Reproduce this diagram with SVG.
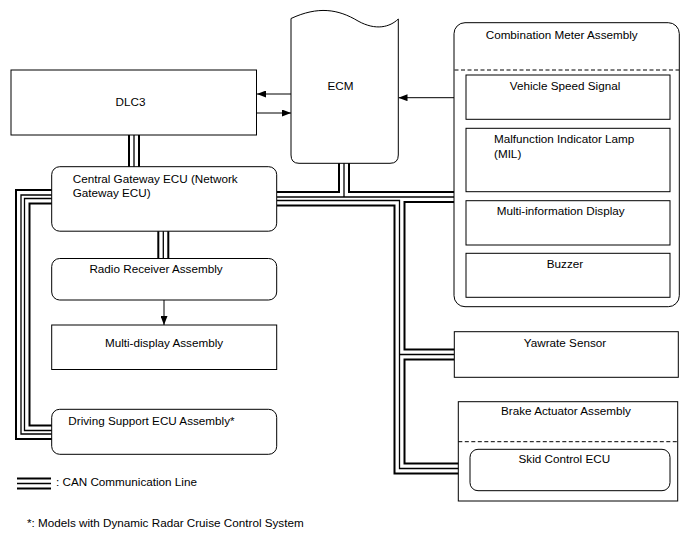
<svg xmlns="http://www.w3.org/2000/svg" width="688" height="560" viewBox="0 0 688 560">
<style>
text{font-family:"Liberation Sans",Arial,sans-serif;font-size:11.7px;fill:#000}
.c{text-anchor:middle}
.box{fill:#fff;stroke:#000;stroke-width:1}
.dash{fill:none;stroke:#000;stroke-width:1;stroke-dasharray:4,2.5}
.ln{fill:none;stroke:#000;stroke-width:1}
.cb{fill:none;stroke:#000;stroke-width:12;stroke-linejoin:miter}
.cw{fill:none;stroke:#fff;stroke-width:8;stroke-linejoin:miter}
.cc{fill:none;stroke:#000;stroke-width:1.3;stroke-linejoin:miter}
</style>
<defs>
<marker id="ah" markerUnits="userSpaceOnUse" markerWidth="9" markerHeight="7" refX="9" refY="3.5" orient="auto">
<path d="M0,0 L9,3.5 L0,7 z" fill="#000"/>
</marker>
<path id="b1" d="M134,134 V167"/>
<path id="b2" d="M163.3,231 V258.5"/>
<path id="b3" d="M52,195 H21 V434 H52"/>
<path id="b4" d="M52,198.5 H24.5 V430.5 H52"/>
<path id="b5" d="M277,197 H454.5"/>
<path id="b6" d="M277,200.5 H399.5 V468.5 H470.5"/>
<path id="b7" d="M399.5,354.5 H454.5"/>
<path id="b8" d="M344,163 V197"/>
<path id="b9" d="M17,483.5 H51"/>
</defs>
<g id="connectors">
<g class="cb"><use href="#b1"/><use href="#b2"/><use href="#b3"/><use href="#b4"/><use href="#b5"/><use href="#b6"/><use href="#b7"/><use href="#b8"/><use href="#b9"/></g>
<g class="cw"><use href="#b1"/><use href="#b2"/><use href="#b3"/><use href="#b4"/><use href="#b5"/><use href="#b6"/><use href="#b7"/><use href="#b8"/><use href="#b9"/></g>
<g class="cc"><use href="#b1"/><use href="#b2"/><use href="#b3"/><use href="#b4"/><use href="#b5"/><use href="#b6"/><use href="#b7"/><use href="#b8"/><use href="#b9"/></g>
<path class="ln" d="M291,94 H257" marker-end="url(#ah)"/>
<path class="ln" d="M256,113 H291" marker-end="url(#ah)"/>
<path class="ln" d="M466,97.7 H398.5" marker-end="url(#ah)"/>
<path class="ln" d="M164,300 V325" marker-end="url(#ah)"/>
</g>
<g id="dlc3">
<rect class="box" x="11" y="70" width="245.5" height="65"/>
<text class="c" x="130.5" y="105.5">DLC3</text>
</g>
<g id="ecm">
<path class="box" d="M291,18.5 C318,6 338,9 358,21 C376,31 390,27 398.3,19 V155 Q398.3,163.3 390,163.3 H299 Q291,163.3 291,155 Z"/>
<text class="c" x="340.5" y="90">ECM</text>
</g>
<g id="gateway">
<rect class="box" x="51.7" y="166.7" width="225" height="64.5" rx="8"/>
<text x="72.7" y="182.7">Central Gateway ECU (Network</text>
<text x="72.7" y="196.7">Gateway ECU)</text>
</g>
<g id="radio">
<rect class="box" x="51.7" y="258.5" width="225" height="41.5" rx="8"/>
<text class="c" x="156" y="273">Radio Receiver Assembly</text>
</g>
<g id="multidisplay">
<rect class="box" x="51.7" y="325" width="225" height="44.5"/>
<text class="c" x="164" y="347">Multi-display Assembly</text>
</g>
<g id="drivingsupport">
<rect class="box" x="51.7" y="409.3" width="225" height="45" rx="8"/>
<text x="68.3" y="425">Driving Support ECU Assembly*</text>
</g>
<g id="combmeter">
<rect class="box" x="454" y="22.7" width="225.3" height="284" rx="11"/>
<path class="dash" d="M454.5,70 H679"/>
<text class="c" x="561.7" y="38.5">Combination Meter Assembly</text>
</g>
<g id="vss">
<rect class="box" x="466" y="75" width="204" height="44.3"/>
<text class="c" x="565" y="90">Vehicle Speed Signal</text>
</g>
<g id="mil">
<rect class="box" x="466" y="128.3" width="204" height="63.4"/>
<text x="494" y="143.3">Malfunction Indicator Lamp</text>
<text x="494" y="158.3">(MIL)</text>
</g>
<g id="mid">
<rect class="box" x="466" y="200.7" width="204" height="44.3"/>
<text x="496.7" y="215">Multi-information Display</text>
</g>
<g id="buzzer">
<rect class="box" x="466" y="253.3" width="204" height="44"/>
<text class="c" x="565" y="268.3">Buzzer</text>
</g>
<g id="yawrate">
<rect class="box" x="454.3" y="331.7" width="224" height="45.6"/>
<text class="c" x="565" y="346.7">Yawrate Sensor</text>
</g>
<g id="brakeactuator">
<rect class="box" x="458.3" y="401.7" width="219.4" height="99.3"/>
<path class="dash" d="M458.3,441.7 H677.7"/>
<text class="c" x="566" y="415">Brake Actuator Assembly</text>
</g>
<g id="skid">
<rect class="box" x="470" y="449.3" width="200" height="41.4" rx="8"/>
<text class="c" x="564.3" y="462.7">Skid Control ECU</text>
</g>
<g id="legend">
<text x="56" y="486">: CAN Communication Line</text>
<text x="27" y="527.3">*: Models with Dynamic Radar Cruise Control System</text>
</g>
</svg>
